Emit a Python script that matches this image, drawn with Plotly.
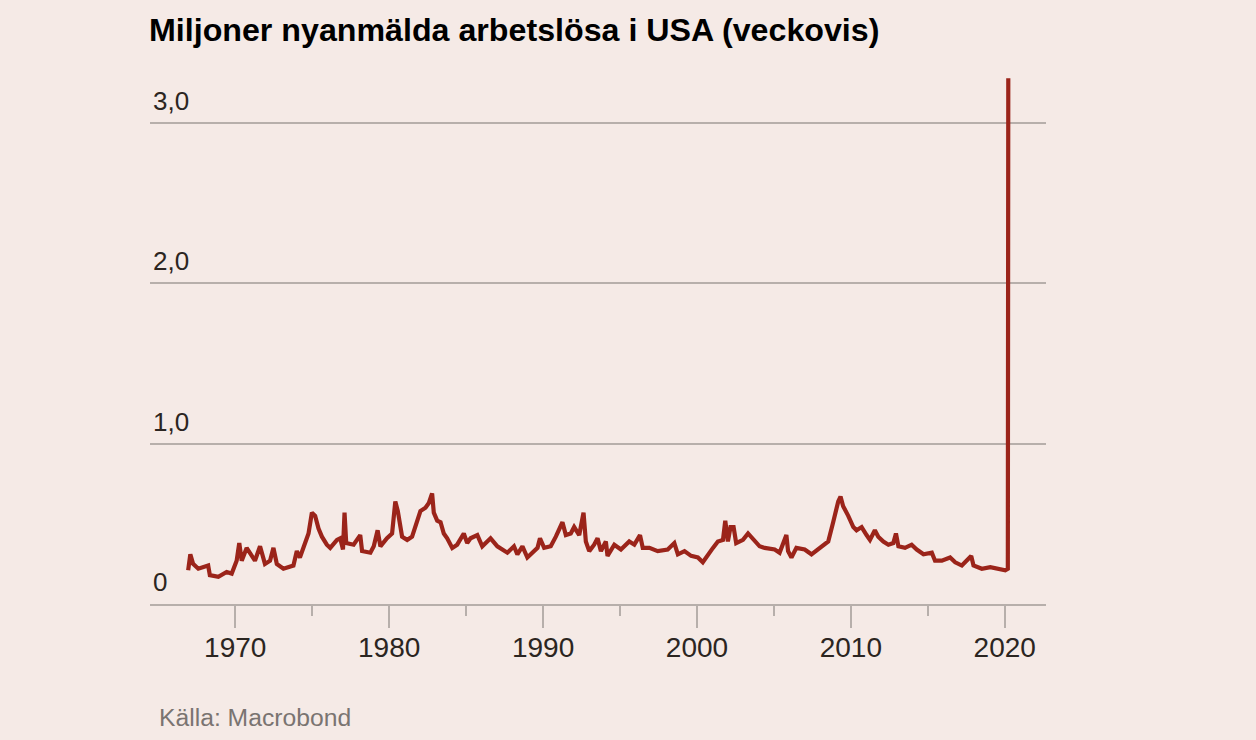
import plotly.graph_objects as go

# veckovisa nyanmälningar, miljoner
years = [
    1966.94, 1967.08, 1967.26, 1967.6, 1968.24, 1968.35, 1968.9, 1969.44, 1969.77,
    1970.09, 1970.26, 1970.42, 1970.74, 1971.07, 1971.28, 1971.61, 1971.93,
    1972.26, 1972.48, 1972.7, 1973.13, 1973.78, 1974.0, 1974.2, 1974.43, 1974.76,
    1974.98, 1975.19, 1975.41, 1975.63, 1975.95, 1976.17, 1976.61, 1976.82,
    1977.0, 1977.1, 1977.21, 1977.69, 1978.12, 1978.24, 1978.78, 1979.0, 1979.25,
    1979.43, 1979.86, 1980.19, 1980.4, 1980.56, 1980.84, 1981.17, 1981.49,
    1981.71, 1982.03, 1982.36, 1982.58, 1982.79, 1982.9, 1983.12, 1983.34,
    1983.55, 1983.77, 1984.1, 1984.42, 1984.85, 1985.07, 1985.29, 1985.73,
    1986.05, 1986.59, 1987.03, 1987.68, 1988.11, 1988.33, 1988.66, 1988.98,
    1989.64, 1989.8, 1990.07, 1990.5, 1990.83, 1991.26, 1991.48, 1991.8,
    1992.02, 1992.35, 1992.63, 1992.78, 1993.0, 1993.32, 1993.54, 1993.76,
    1994.08, 1994.19, 1994.63, 1995.06, 1995.6, 1995.93, 1996.3, 1996.48,
    1996.91, 1997.45, 1998.1, 1998.53, 1998.76, 1999.19, 1999.62, 2000.06,
    2000.38, 2000.71, 2001.04, 2001.36, 2001.69, 2001.84, 2002.01, 2002.18,
    2002.38, 2002.55, 2002.99, 2003.32, 2003.75, 2004.07, 2004.4, 2005.05,
    2005.37, 2005.81, 2005.92, 2006.14, 2006.46, 2007.0, 2007.44, 2007.98,
    2008.53, 2008.85, 2009.18, 2009.33, 2009.5, 2009.83, 2010.16, 2010.37,
    2010.7, 2011.02, 2011.24, 2011.56, 2011.78, 2012.11, 2012.44, 2012.76,
    2012.93, 2013.09, 2013.52, 2013.95, 2014.28, 2014.72, 2015.26, 2015.47,
    2015.91, 2016.45, 2016.78, 2017.21, 2017.82, 2017.97, 2018.51, 2019.06,
    2019.6, 2020.03, 2020.2, 2020.23,
]
claims = [
    0.21, 0.31, 0.25, 0.22, 0.24, 0.18, 0.17, 0.20, 0.19,
    0.27, 0.38, 0.27, 0.35, 0.30, 0.27, 0.36, 0.25,
    0.27, 0.35, 0.25, 0.22, 0.24, 0.33, 0.29, 0.36, 0.44,
    0.57, 0.55, 0.47, 0.42, 0.37, 0.35, 0.40, 0.41,
    0.34, 0.57, 0.38, 0.37, 0.43, 0.33, 0.32, 0.36, 0.46,
    0.36, 0.41, 0.44, 0.64, 0.58, 0.42, 0.40, 0.42,
    0.48, 0.58, 0.60, 0.63, 0.69, 0.57, 0.52, 0.51,
    0.44, 0.41, 0.35, 0.37, 0.44, 0.38, 0.41, 0.43,
    0.36, 0.41, 0.36, 0.32, 0.36, 0.31, 0.36, 0.29,
    0.35, 0.41, 0.35, 0.36, 0.42, 0.51, 0.43, 0.44,
    0.48, 0.43, 0.57, 0.39, 0.33, 0.37, 0.41, 0.33,
    0.39, 0.30, 0.37, 0.34, 0.39, 0.37, 0.43, 0.35,
    0.35, 0.33, 0.34, 0.38, 0.31, 0.33, 0.30, 0.29,
    0.26, 0.30, 0.35, 0.39, 0.40, 0.52, 0.39, 0.48,
    0.48, 0.38, 0.40, 0.44, 0.39, 0.36, 0.35, 0.34,
    0.32, 0.43, 0.33, 0.29, 0.35, 0.34, 0.31, 0.35,
    0.39, 0.51, 0.64, 0.67, 0.61, 0.55, 0.48, 0.46,
    0.48, 0.43, 0.40, 0.46, 0.42, 0.39, 0.37, 0.38,
    0.44, 0.36, 0.35, 0.37, 0.34, 0.31, 0.32, 0.27,
    0.27, 0.29, 0.26, 0.24, 0.30, 0.24, 0.22, 0.23,
    0.22, 0.21, 0.22, 3.28,
]

y_ticks = [0, 1, 2, 3]
y_labels = ["0", "1,0", "2,0", "3,0"]
x_ticks = [1970, 1980, 1990, 2000, 2010, 2020]
x_labels = ["1970", "1980", "1990", "2000", "2010", "2020"]

bg = "#f5eae6"
grey = "#b7afab"
font = "Liberation Sans"

fig = go.Figure()
fig.add_trace(go.Scatter(
    x=years,
    y=claims,
    mode="lines",
    line=dict(color="#9b241a", width=4.2),
    hoverinfo="skip",
    showlegend=False,
))

fig.update_layout(
    width=1256,
    height=740,
    paper_bgcolor=bg,
    plot_bgcolor=bg,
    margin=dict(l=150, r=210, t=75, b=136),
    font=dict(family=font, color="#2b2521"),
    title=dict(
        text="<b>Miljoner nyanmälda arbetslösa i USA (veckovis)</b>",
        font=dict(family=font, size=32.2, color="#000000"),
        xref="container", yref="container",
        x=149 / 1256, xanchor="left",
        y=1 - 30 / 740, yanchor="middle",
    ),
    annotations=[dict(
        text="Källa: Macrobond",
        xref="paper", yref="paper",
        x=7 / 896, y=(604 - 717) / 529,
        xanchor="left", yanchor="middle",
        showarrow=False,
        font=dict(family=font, size=24.7, color="#7a7471"),
    )],
)

fig.update_xaxes(
    range=[1964.46, 2022.68],
    tickvals=x_ticks,
    ticktext=x_labels,
    ticks="outside",
    ticklen=22,
    tickwidth=2,
    tickcolor=grey,
    tickfont=dict(size=28, color="#2b2521"),
    ticklabelstandoff=-5,
    minor=dict(dtick=5, tick0=1965, ticks="outside", ticklen=10, tickwidth=2,
               tickcolor=grey, showgrid=False),
    showline=True,
    linecolor=grey,
    linewidth=2,
    showgrid=False,
    zeroline=False,
)

fig.update_yaxes(
    range=[0, 3.3],
    tickvals=y_ticks,
    ticktext=y_labels,
    ticklabelposition="inside top",
    ticklabelshift=-4,
    tickfont=dict(size=26, color="#2b2521"),
    ticks="",
    showgrid=True,
    gridcolor=grey,
    gridwidth=2,
    zeroline=False,
    showline=False,
)

# ta bort sidans standardmarginal så att figuren fyller fönstret
fig.write_html("out.html", config={"displayModeBar": False},
               post_script="document.body.style.margin='0';")
